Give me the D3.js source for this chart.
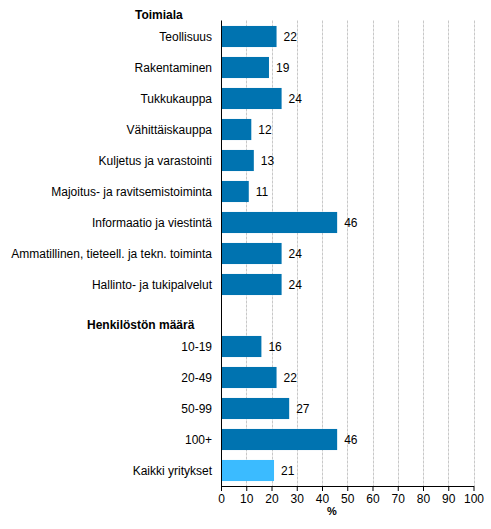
<!DOCTYPE html>
<html><head><meta charset="utf-8">
<script src="https://cdn.jsdelivr.net/npm/d3@7"></script>
<style>body{margin:0;background:#fff;} text{font-family:Arial,"Liberation Sans",sans-serif;}</style>
</head><body>
<svg id="c" width="491" height="529"></svg>
<script>
const groupHeaders = ["Toimiala", "Henkilöstön määrä"];
const industries = ["Teollisuus","Rakentaminen","Tukkukauppa","Vähittäiskauppa","Kuljetus ja varastointi","Majoitus- ja ravitsemistoiminta","Informaatio ja viestintä","Ammatillinen, tieteell. ja tekn. toiminta","Hallinto- ja tukipalvelut"];
const industryValues = [22,19,24,12,13,11,46,24,24];
const sizes = ["10-19","20-49","50-99","100+"];
const sizeValues = [16,22,27,46];
const totalLabel = ["Kaikki yritykset"];
const totalValue = [21];
const xTicks = [0,10,20,30,40,50,60,70,80,90,100];
const axisTitle = "%";

const rows = [];
rows.push({key:"h0", label:groupHeaders[0], header:true, hx:135});
industries.forEach((c,i)=>rows.push({key:c,label:c,value:industryValues[i],total:false}));
rows.push({key:"h1", label:groupHeaders[1], header:true, hx:87});
sizes.forEach((c,i)=>rows.push({key:c,label:c,value:sizeValues[i],total:false}));
totalLabel.forEach((c,i)=>rows.push({key:c,label:c,value:totalValue[i],total:true}));

const svg = d3.select("#c");
const x = d3.scaleLinear().domain([0,100]).range([221,473.5]);
const y = d3.scaleBand().domain(rows.map(r=>r.key)).range([-10,486]).paddingInner(0.32).paddingOuter(0.16);

const plotTop = 20.5, plotBottom = 486;
// gridlines
svg.append("g").selectAll("line").data(xTicks.filter(t=>t>0)).join("line")
  .attr("x1",d=>Math.round(x(d))+0.5).attr("x2",d=>Math.round(x(d))+0.5)
  .attr("y1",plotTop).attr("y2",plotBottom)
  .attr("stroke","#c8c8c8").attr("stroke-width",1).attr("stroke-dasharray","3,1");

const data = rows.filter(r=>!r.header);
svg.append("g").selectAll("rect").data(data).join("rect")
  .attr("x",x(0)).attr("y",d=>y(d.key)).attr("width",d=>x(d.value)-x(0)).attr("height",y.bandwidth())
  .attr("fill",d=>d.total?"#3bbbff":"#0073b0");

svg.append("g").selectAll("text").data(data).join("text")
  .attr("x",d=>x(d.value)+7).attr("y",d=>y(d.key)+y.bandwidth()/2).attr("dy","0.35em")
  .attr("font-size",12).attr("fill","#000").text(d=>d.value);

svg.append("g").selectAll("text").data(data).join("text")
  .attr("x",212).attr("y",d=>y(d.key)+y.bandwidth()/2).attr("dy","0.35em")
  .attr("text-anchor","end").attr("font-size",12).attr("fill","#000").text(d=>d.label);

svg.append("g").selectAll("text").data(rows.filter(r=>r.header)).join("text")
  .attr("x",d=>d.hx).attr("y",d=>y(d.key)+y.bandwidth()/2+9).attr("dy","0.35em")
  .attr("font-size",12).attr("font-weight","bold").attr("fill","#000").text(d=>d.label);

// y axis line
svg.append("line").attr("x1",221.5).attr("x2",221.5).attr("y1",plotTop).attr("y2",plotBottom+0.5).attr("stroke","#000");

// x axis
const xa = svg.append("g").attr("transform",`translate(0,${plotBottom})`)
  .call(d3.axisBottom(x).tickValues(xTicks).tickSize(5).tickPadding(3).tickSizeOuter(0));
xa.select(".domain").attr("stroke","#000");
xa.selectAll(".tick line").attr("stroke","#000");
xa.selectAll("text").attr("font-size",12).attr("fill","#000").attr("font-family","Arial,'Liberation Sans',sans-serif");

svg.append("text").attr("x",332).attr("y",511).attr("dy","0.35em").attr("text-anchor","middle")
  .attr("font-size",11).attr("font-weight","bold").text(axisTitle);
</script>
</body></html>
